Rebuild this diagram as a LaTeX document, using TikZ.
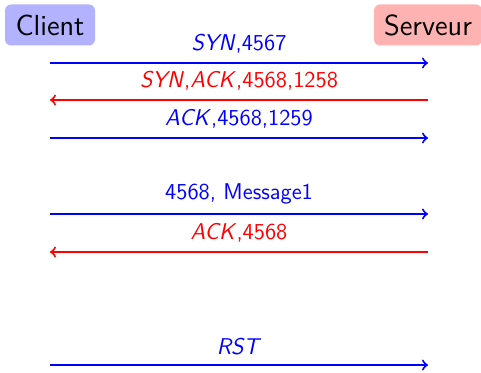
\documentclass[tikz,border=0pt]{standalone}
\usetikzlibrary{positioning}
\newcommand{\flag}[1]{{\itshape #1\/}}

\begin{document}
\begin{tikzpicture}[x=0.5pt, y=-0.5pt,
  font=\sffamily\fontsize{11.4}{13}\selectfont,
  host/.style={rounded corners=3pt, minimum height=20.5pt, inner sep=2pt,
    font=\sffamily\fontsize{14.5}{16}\selectfont},
  msgline/.style={->, line width=1pt}]
  \useasboundingbox (0,0) rectangle (481,373);

  \node (client) [host, fill=blue!30, minimum width=45pt] at (50,25) {Client};
  \node (serveur) [host, fill=red!30, minimum width=54pt] at (428,25) {Serveur};

  \foreach \i/\y in {1/63,2/100,3/138,4/214,5/252,6/365} {
    \coordinate (c\i) at (50,\y);
    \coordinate (s\i) at (428,\y);
  }

  \draw [msgline, blue] (c1) -- node[above=1pt] {\flag{SYN},4567} (s1);
  \draw [msgline, red] (s2) -- node[above=1pt] {\flag{SYN},\flag{ACK},4568,1258} (c2);
  \draw [msgline, blue] (c3) -- node[above=1pt] {\flag{ACK},4568,1259} (s3);
  \draw [msgline, blue] (c4) -- node[above=1pt] {4568, Message1} (s4);
  \draw [msgline, red] (s5) -- node[above=1pt] {\flag{ACK},4568} (c5);
  \draw [msgline, blue] (c6) -- node[above=1pt] {\flag{RST}} (s6);

\end{tikzpicture}
\end{document}
